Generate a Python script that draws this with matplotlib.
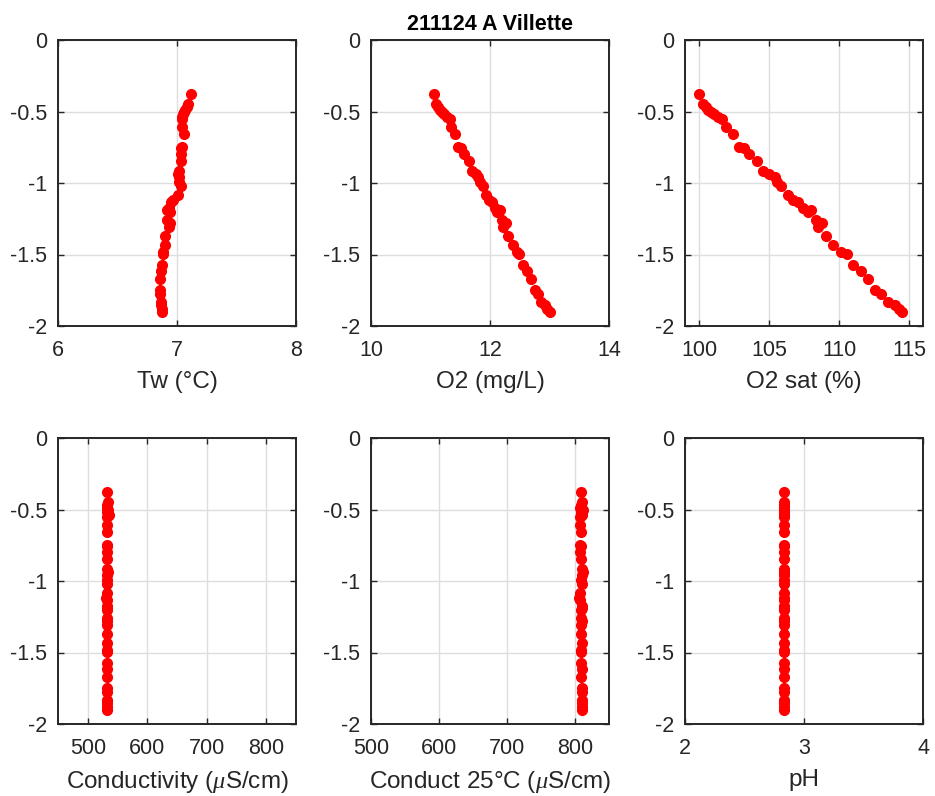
import matplotlib
matplotlib.use("Agg")
import matplotlib.pyplot as plt

plt.rcParams['font.family'] = ['Liberation Sans', 'DejaVu Sans']
plt.rcParams['mathtext.fontset'] = 'custom'
plt.rcParams['mathtext.it'] = 'Liberation Serif:italic'

title = "211124 A Villette"

depth = [-0.376, -0.446, -0.470, -0.488, -0.505, -0.520, -0.540, -0.554, -0.605, -0.658,
         -0.745, -0.756, -0.796, -0.845, -0.917, -0.938, -0.955, -0.990, -1.024, -1.083,
         -1.118, -1.136, -1.178, -1.206, -1.188, -1.262, -1.281, -1.309, -1.374, -1.437,
         -1.481, -1.495, -1.572, -1.612, -1.668, -1.747, -1.773, -1.829, -1.854, -1.882, -1.900]

tw = [7.12, 7.09, 7.08, 7.065, 7.056, 7.05, 7.045, 7.04, 7.04, 7.056,
      7.04, 7.035, 7.034, 7.03, 7.014, 7.012, 7.014, 7.02, 7.034, 7.006,
      6.97, 6.95, 6.93, 6.94, 6.92, 6.915, 6.94, 6.935, 6.90, 6.896,
      6.88, 6.885, 6.873, 6.865, 6.86, 6.86, 6.86, 6.865, 6.868, 6.87, 6.873]

o2 = [11.06, 11.10, 11.13, 11.16, 11.19, 11.23, 11.27, 11.32, 11.34, 11.41,
      11.47, 11.52, 11.56, 11.64, 11.69, 11.76, 11.80, 11.84, 11.88, 11.93,
      11.99, 12.03, 12.08, 12.12, 12.17, 12.20, 12.27, 12.22, 12.31, 12.38,
      12.45, 12.49, 12.56, 12.63, 12.69, 12.76, 12.80, 12.86, 12.92, 12.96, 13.00]

o2sat = [100.0, 100.3, 100.5, 100.66, 100.83, 101.06, 101.37, 101.65, 101.9, 102.4,
         102.86, 103.2, 103.57, 104.16, 104.6, 105.03, 105.4, 105.6, 105.86, 106.35,
         106.7, 107.04, 107.44, 107.8, 108.03, 108.34, 108.76, 108.5, 109.1, 109.6,
         110.13, 110.58, 110.98, 111.58, 112.05, 112.6, 113.0, 113.5, 114.0, 114.3, 114.5]

cond = [533, 534, 533, 532, 534, 533, 535, 532, 533, 532,
        532, 533, 532, 533, 533, 534, 533, 532, 533, 532,
        531, 532, 533, 532, 533, 532, 533, 532, 532, 533,
        532, 532, 532, 533, 532, 532, 533, 532, 533, 532, 533]

cond25 = [809, 810, 809, 808, 812, 809, 811, 808, 808, 809,
          808, 809, 808, 809, 811, 812, 810, 809, 810, 807,
          806, 808, 810, 809, 810, 809, 810, 809, 809, 810,
          809, 809, 809, 810, 809, 810, 811, 810, 811, 810, 810]

ph = [2.83, 2.83, 2.83, 2.83, 2.83, 2.83, 2.83, 2.83, 2.83, 2.83,
      2.83, 2.83, 2.83, 2.83, 2.83, 2.83, 2.83, 2.83, 2.83, 2.83,
      2.83, 2.83, 2.83, 2.83, 2.83, 2.83, 2.83, 2.83, 2.83, 2.83,
      2.83, 2.83, 2.83, 2.83, 2.83, 2.83, 2.83, 2.83, 2.83, 2.83, 2.83]

series = [tw, o2, o2sat, cond, cond25, ph]
xlabels = ["Tw (°C)", "O2 (mg/L)", "O2 sat (%)",
           r"Conductivity ($\mu$S/cm)", r"Conduct 25°C ($\mu$S/cm)", "pH"]
xlims = [(6, 8), (10, 14), (99, 116), (450, 850), (500, 850), (2, 4)]
xticks = [[6, 7, 8], [10, 12, 14], [100, 105, 110, 115],
          [500, 600, 700, 800], [500, 600, 700, 800], [2, 3, 4]]
yticks = [0, -0.5, -1, -1.5, -2]
ytick_labels = ["0", "-0.5", "-1", "-1.5", "-2"]

W, H = 935, 796
fig = plt.figure(figsize=(W / 100, H / 100), dpi=100)

lefts = [58, 371, 685]
width = 238
tops = [40, 438]
height = 286

text_color = '#262626'
for i in range(6):
    r, c = divmod(i, 3)
    x0 = lefts[c] / W
    y0 = 1 - (tops[r] + height) / H
    ax = fig.add_axes([x0, y0, width / W, height / H])
    ax.plot(series[i], depth, 'o', color='red', ms=7, mec='red', zorder=3)
    ax.set_xlim(*xlims[i])
    ax.set_ylim(-2, 0)
    ax.set_xticks(xticks[i])
    ax.set_yticks(yticks)
    ax.set_yticklabels(ytick_labels)
    ax.grid(True, color='#dedede', linewidth=1.0)
    ax.set_axisbelow(True)
    ax.tick_params(direction='in', length=4, width=1.0, top=True, right=True,
                   labelsize=15.5, colors=text_color)
    ax.tick_params(axis='x', pad=10)
    ax.tick_params(axis='y', pad=8)
    for s in ax.spines.values():
        s.set_linewidth(1.4)
        s.set_color(text_color)
    ax.set_xlabel(xlabels[i], fontsize=17.5, color=text_color, labelpad=7)
    if i == 1:
        ax.set_title(title, fontsize=15.5, fontweight='bold', color='black', pad=7)

fig.savefig("out.png", dpi=100, facecolor='white')
